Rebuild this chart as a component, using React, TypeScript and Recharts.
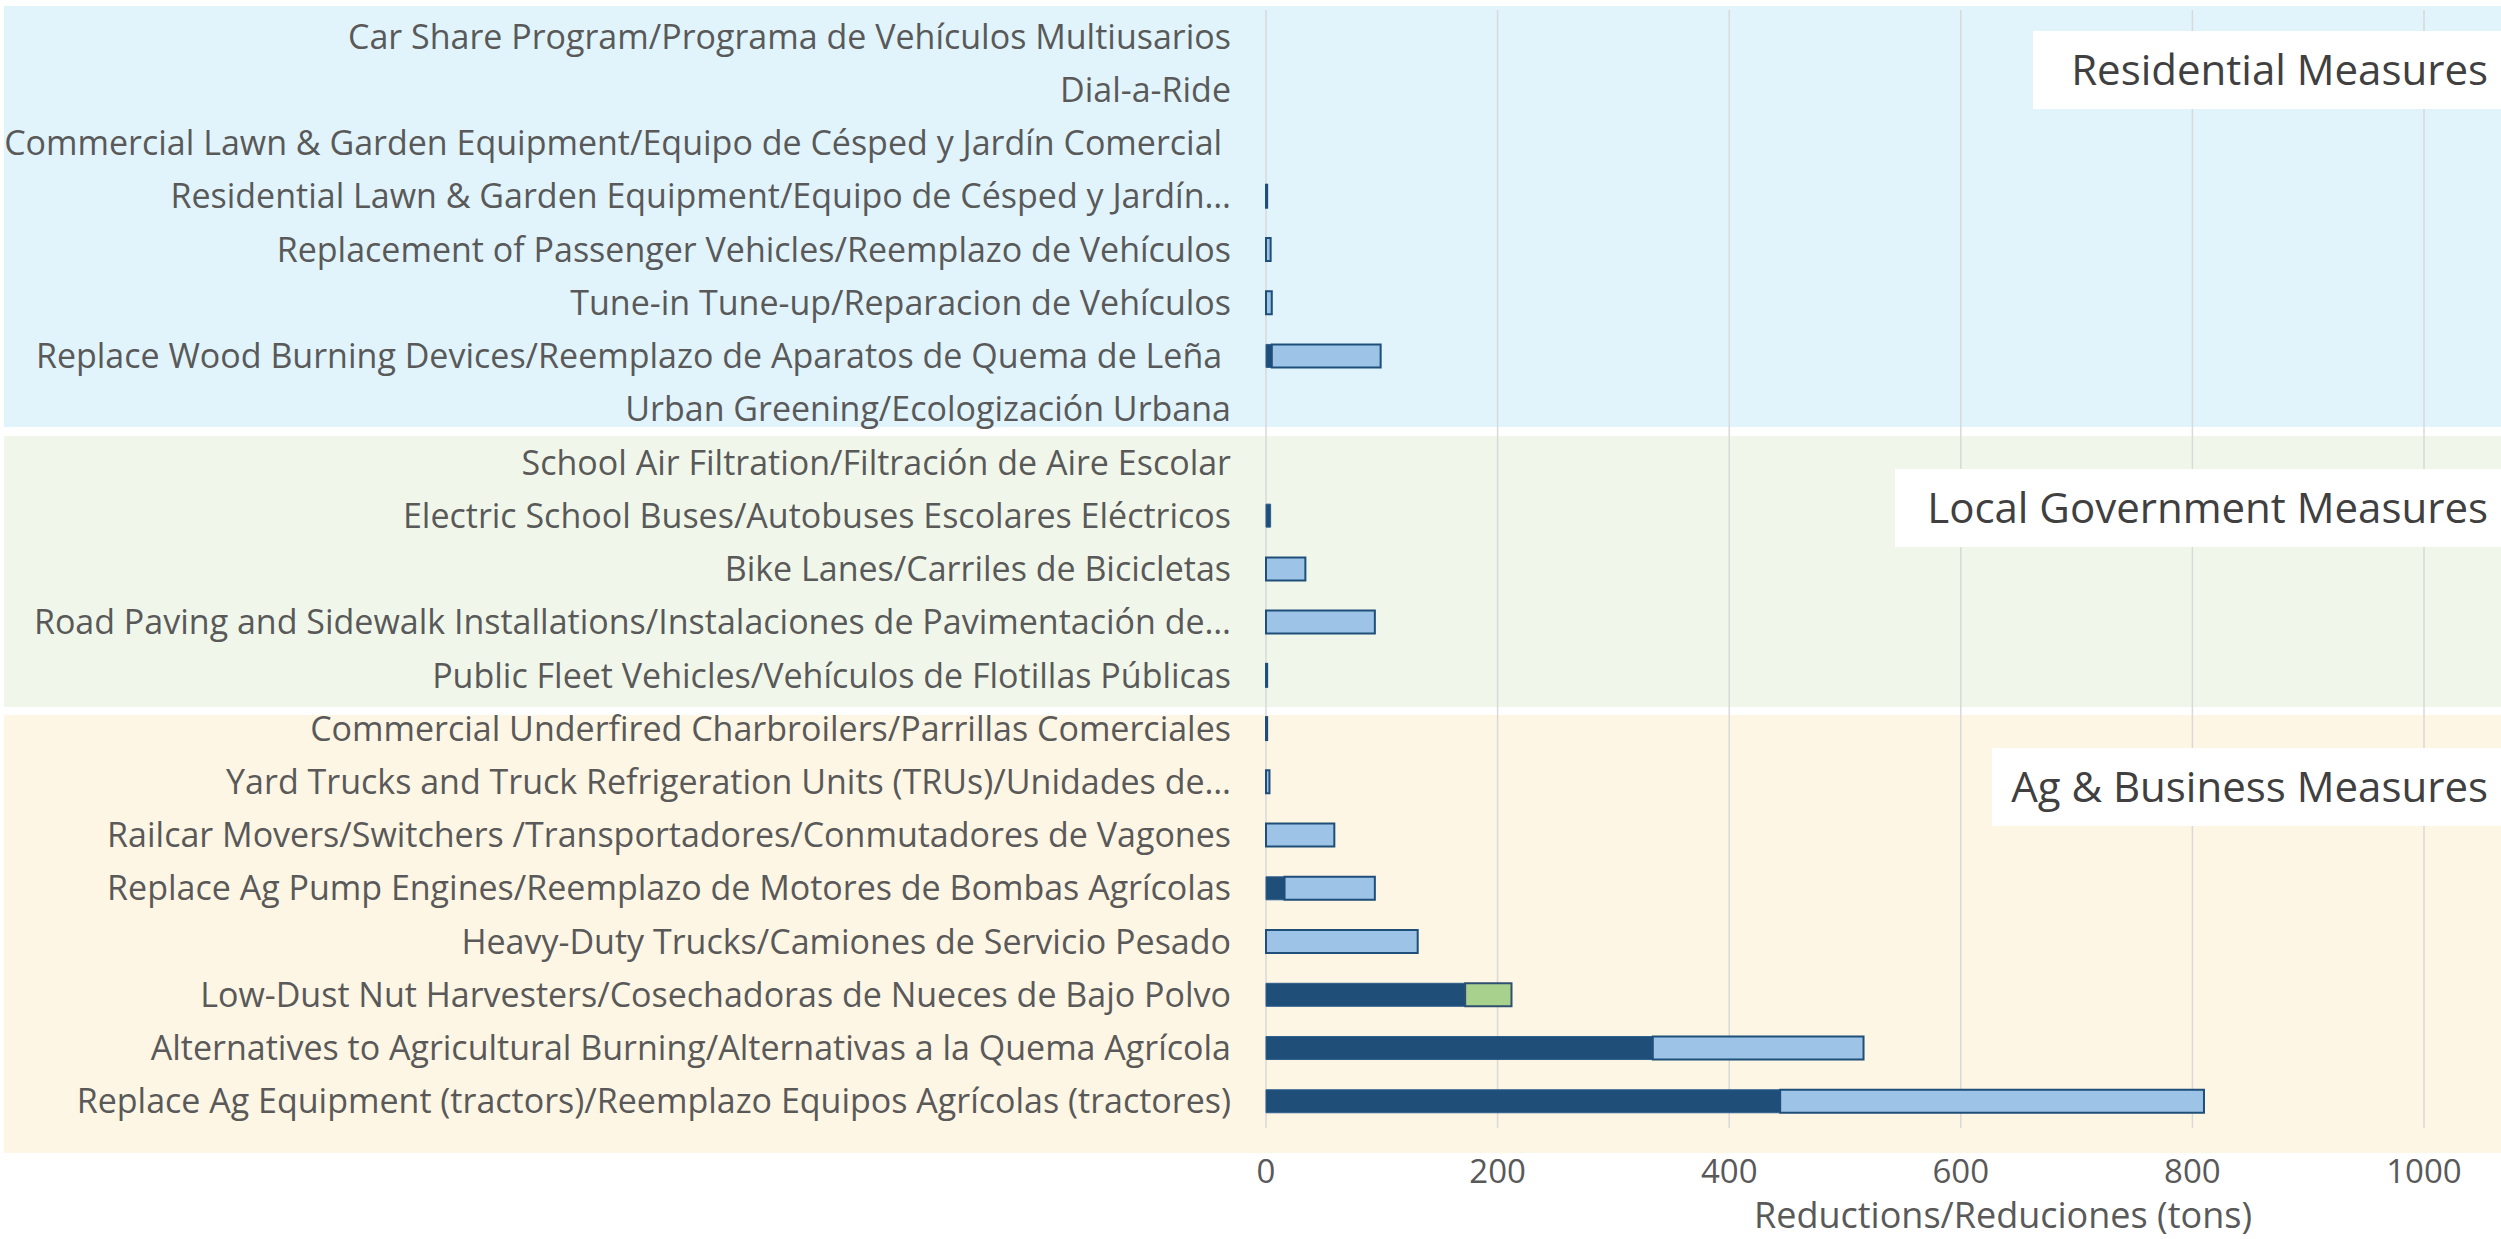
import { Bar, BarChart, CartesianGrid, XAxis, YAxis } from "recharts";

// Measures, top to bottom (Residential, Local Government, Ag & Business)
const measures = [
  "Car Share Program/Programa de Vehículos Multiusarios",
  "Dial-a-Ride",
  "Commercial Lawn & Garden Equipment/Equipo de Césped y Jardín Comercial\u00A0",
  "Residential Lawn & Garden Equipment/Equipo de Césped y Jardín…",
  "Replacement of Passenger Vehicles/Reemplazo de Vehículos",
  "Tune-in Tune-up/Reparacion de Vehículos",
  "Replace Wood Burning Devices/Reemplazo de Aparatos de Quema de Leña\u00A0",
  "Urban Greening/Ecologización Urbana",
  "School Air Filtration/Filtración de Aire Escolar",
  "Electric School Buses/Autobuses Escolares Eléctricos",
  "Bike Lanes/Carriles de Bicicletas",
  "Road Paving and Sidewalk Installations/Instalaciones de Pavimentación de…",
  "Public Fleet Vehicles/Vehículos de Flotillas Públicas",
  "Commercial Underfired Charbroilers/Parrillas Comerciales",
  "Yard Trucks and Truck Refrigeration Units (TRUs)/Unidades de…",
  "Railcar Movers/Switchers /Transportadores/Conmutadores de Vagones",
  "Replace Ag Pump Engines/Reemplazo de Motores de Bombas Agrícolas",
  "Heavy-Duty Trucks/Camiones de Servicio Pesado",
  "Low-Dust Nut Harvesters/Cosechadoras de Nueces de Bajo Polvo",
  "Alternatives to Agricultural Burning/Alternativas a la Quema Agrícola",
  "Replace Ag Equipment (tractors)/Reemplazo Equipos Agrícolas (tractores)",
];

// reductions in tons, one stacked segment per array
const darkSegment = [0, 0, 0, 0, 0, 0, 5, 0, 0, 4, 0, 0, 0, 0, 0, 0, 16, 0, 172, 334, 444];
const lightSegment = [0, 0, 0, 1, 4, 5, 94, 0, 0, 0, 34, 94, 1, 1, 3, 59, 78, 131, 0, 182, 366];
const greenSegment = [0, 0, 0, 0, 0, 0, 0, 0, 0, 0, 0, 0, 0, 0, 0, 0, 0, 0, 40, 0, 0];

const xTicks = [0, 200, 400, 600, 800, 1000];

const groups = [
  { title: "Residential Measures", fill: "#E1F4FC", top: 6, bottom: 427, boxLeft: 2033, boxTop: 31 },
  { title: "Local Government Measures", fill: "#F0F7EA", top: 436, bottom: 707, boxLeft: 1895, boxTop: 469 },
  { title: "Ag & Business Measures", fill: "#FEF6E4", top: 715, bottom: 1153, boxLeft: 1992, boxTop: 748 },
];

const W = 2501;
const H = 1239;
const FONT = "'Open Sans', sans-serif";

const data = measures.map((name, i) => ({
  name,
  dark: darkSegment[i],
  light: lightSegment[i],
  green: greenSegment[i],
}));

export default function App() {
  return (
    <div style={{ position: "absolute", left: 0, top: 0, width: W, height: H, fontFamily: FONT, background: "#fff" }}>
      <svg width={W} height={H} style={{ position: "absolute", left: 0, top: 0 }}>
        {groups.map((g) => (
          <rect key={g.title} x={4} y={g.top} width={W - 4} height={g.bottom - g.top} fill={g.fill} />
        ))}
      </svg>
      <div style={{ position: "absolute", left: 0, top: 0 }}>
        <BarChart
          width={W}
          height={H}
          data={data}
          layout="vertical"
          margin={{ top: 10, right: 77, bottom: 0, left: 0 }}
        >
          <CartesianGrid horizontal={false} stroke="#d9d9d9" strokeWidth={1.5} />
          <XAxis
            type="number"
            domain={[0, 1000]}
            ticks={xTicks}
            height={111}
            axisLine={false}
            tickLine={false}
            tickSize={0}
            tickMargin={32}
            tick={{ fontSize: 33, fill: "#595959", fontFamily: FONT }}
            label={{
              value: "Reductions/Reduciones (tons)",
              position: "insideBottom",
              offset: 11,
              dx: 158,
              fontSize: 36,
              fill: "#595959",
              fontFamily: FONT,
            }}
          />
          <YAxis
            type="category"
            dataKey="name"
            width={1266}
            interval={0}
            axisLine={false}
            tickLine={false}
            tickSize={0}
            tickMargin={35}
            tick={{ fontSize: 34, fill: "#595959", fontFamily: FONT }}
          />
          <Bar dataKey="dark" stackId="r" barSize={23} fill="#1F4E79" stroke="#2E5F8E" strokeWidth={1} isAnimationActive={false} />
          <Bar dataKey="light" stackId="r" barSize={23} fill="#9DC3E6" stroke="#1F4E79" strokeWidth={2} isAnimationActive={false} />
          <Bar dataKey="green" stackId="r" barSize={23} fill="#A9D18E" stroke="#2F4F6F" strokeWidth={2} isAnimationActive={false} />
        </BarChart>
      </div>
      <svg width={W} height={H} style={{ position: "absolute", left: 0, top: 0, pointerEvents: "none" }}>
        {groups.map((g) => (
          <g key={g.title}>
            <rect x={g.boxLeft} y={g.boxTop} width={W - g.boxLeft} height={78} fill="#ffffff" />
            <text x={2488} y={g.boxTop + 54} textAnchor="end" fontSize={42} fill="#404040" fontFamily={FONT}>
              {g.title}
            </text>
          </g>
        ))}
      </svg>
    </div>
  );
}
